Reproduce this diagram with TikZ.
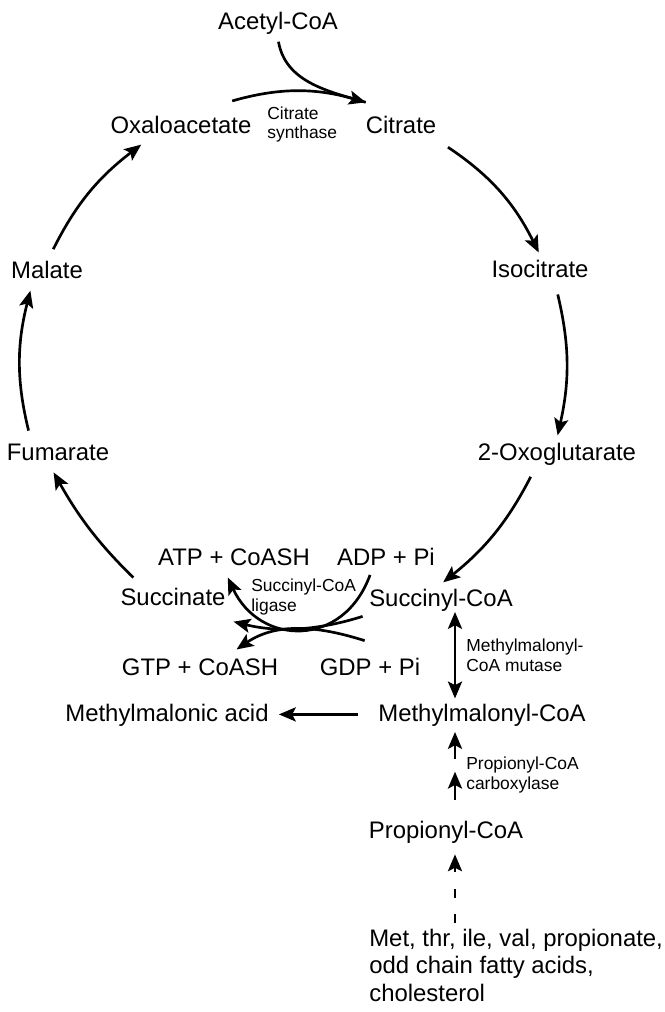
\documentclass[tikz,border=0pt]{standalone}
\usepackage{fontspec}
\setmainfont{Liberation Sans}
\usetikzlibrary{arrows.meta,calc}
\newcommand{\metfont}{\fontsize{17}{19.5}\selectfont}
\newcommand{\enzfont}{\fontsize{12.4}{14.2}\selectfont}

\begin{document}
\begin{tikzpicture}[>={Stealth[length=12pt,width=10pt,inset=2.5pt]}, line width=1.9pt]
        \tikzset{met/.style={font=\metfont, inner sep=0.1cm, text height=0.43cm, text depth=0.1cm},
                 enz/.style={font=\enzfont, inner sep=0.1cm, align=left, anchor=west},
                 rxn/.style={->, shorten <=5.5pt, shorten >=2pt}}
        \useasboundingbox (0,0) rectangle (16.625,-25.3);
        %% Metabolitos del ciclo
        \node[met] (acoa) at (6.95,-0.575)   {Acetyl-CoA};
        \node[met] (oaa)  at (4.525,-3.175)  {Oxaloacetate};
        \node[met] (cit)  at (10.025,-3.175) {Citrate};
        \node[met] (mal)  at (1.175,-6.8)    {Malate};
        \node[met] (iso)  at (13.5,-6.775)   {Isocitrate};
        \node[met] (fum)  at (1.45,-11.35)   {Fumarate};
        \node[met] (ogl)  at (13.925,-11.35) {2-Oxoglutarate};
        \node[met] (atp)  at (5.85,-13.975)  {ATP + CoASH};
        \node[met] (adp)  at (9.65,-13.975)  {ADP + Pi};
        \node[met] (suc)  at (4.325,-14.975) {Succinate};
        \node[met] (scoa) at (11.025,-15.0)  {Succinyl-CoA};
        \node[met] (gtp)  at (5.0,-16.725)   {GTP + CoASH};
        \node[met] (gdp)  at (9.25,-16.725)  {GDP + Pi};
        \node[met] (mma)  at (4.175,-17.86)  {Methylmalonic acid};
        \node[met] (mmcoa) at (12.05,-17.86) {Methylmalonyl-CoA};
        \node[met] (pcoa) at (11.15,-20.8)   {Propionyl-CoA};
        \node[font=\metfont, inner sep=0pt, align=left, anchor=west] (src) at (9.2,-24.13)
             {Met, thr, ile, val, propionate,\\odd chain fatty acids,\\cholesterol};
        %% Enzimas
        \node[enz] (cs)  at (6.55,-3.1125)  {Citrate\\synthase};
        \node[enz] (lig) at (6.15,-14.925)  {Succinyl-CoA\\ligase};
        \node[enz] (mut) at (11.525,-16.375) {Methylmalonyl-\\CoA mutase};
        \node[enz] (pcc) at (11.525,-19.375) {Propionyl-CoA\\carboxylase};
        %% Ciclo
        \draw[rxn] ([yshift=0.2cm]oaa.20) to[bend left=16] ([shift={(0.2,0.2)}]cit.north west);
        \draw[shorten <=2pt, shorten >=2pt] (acoa.south) to[out=-80,in=164] ([shift={(0.2,0.2)}]cit.north west);
        \draw[rxn] (cit.south east) to[bend left=15] (iso.north);
        \draw[rxn] (iso.-45) to[bend left=13] (ogl.north);
        \draw[rxn] (ogl.-145) to[bend left=12] (scoa.north);
        \draw[rxn] (suc.155) to[bend left=8] (fum.-110);
        \draw[rxn] (fum.150) to[bend left=14] (mal.-135);
        \draw[rxn] (mal.80) to[bend left=13] (oaa.-157);
        %% Succinil-CoA ligasa
        \draw[rxn, shorten <=0pt] (adp.-135) to[out=-110,in=-65,looseness=1.4] (atp.-115);
        \draw[rxn, shorten <=1pt] (scoa.south west) .. controls +(-1.1,-0.35) and +(1.2,-0.3) .. ([yshift=-0.15cm]suc.south east);
        \draw[rxn, shorten <=1pt] ([shift={(-0.1,0.3)}]gdp.north) .. controls +(-1.1,0.35) and +(1.1,0.75) .. ([yshift=0.05cm]gtp.25);
        %% Via del propionato
        \coordinate (ax) at ([xshift=0.35cm,yshift=0.1cm]scoa.south);
        \draw[<->] (ax) -- (ax |- mmcoa.north);
        \draw[->] ($(ax |- mmcoa.south)+(0,-0.71)$) -- ($(ax |- mmcoa.south)+(0,-0.04)$);
        \draw[->] ($(ax |- pcoa.north)+(0,0.39)$) -- ($(ax |- pcoa.north)+(0,1.11)$);
        \draw[->, dash pattern=on 6pt off 12pt] ($(ax |- src.north)+(0,0.12)$) -- ($(ax |- pcoa.south)+(0,-0.16)$);
        \draw[rxn, shorten <=11pt, shorten >=3.5pt] (mmcoa.west) -- (mma.east);
    \end{tikzpicture}
\end{document}
